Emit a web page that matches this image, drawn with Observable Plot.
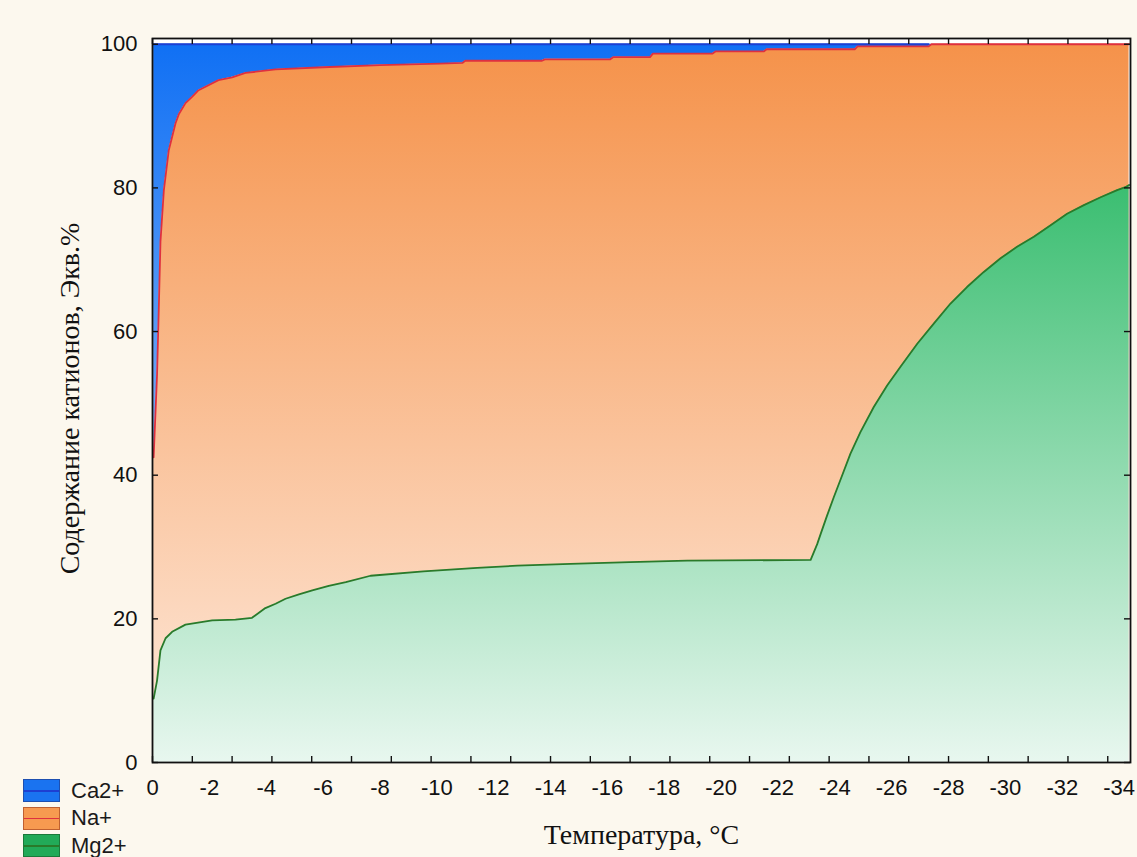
<!DOCTYPE html>
<html><head><meta charset="utf-8">
<script src="https://cdn.jsdelivr.net/npm/d3@7"></script>
<script src="https://cdn.jsdelivr.net/npm/@observablehq/plot@0.6"></script>
<style>
body{margin:0;background:#fcf8ee;}
#wrap{position:relative;width:1137px;height:857px;}
.legend{position:absolute;left:23px;top:777px;font:22px "Liberation Sans",Arial,sans-serif;color:#1a1a1a;}
.row{display:flex;align-items:center;height:27.5px;}
.sw{width:35px;height:21px;border:1px solid;position:relative;margin-right:11px;}
.sw i{position:absolute;left:0;right:0;top:10px;height:1.5px;}
</style></head><body><div id="wrap"></div>
<script>
// Ca2+ share (upper boundary of Na+ band = 100 - Ca)
const temperatureCa = [-0.04,-0.16,-0.22,-0.28,-0.4,-0.57,-0.81,-0.93,-1.16,-1.4,-1.62,-2.32,-2.8,-3.27,-4.33,-6,-8,-10.1,-10.9,-11.0,-13.7,-13.8,-16.1,-16.2,-17.5,-17.6,-19.7,-19.8,-21.5,-21.6,-24.7,-24.8,-27.3,-27.4,-34.35];
const caPct = [57.5,46,37,27.5,20.3,14.8,11,9.7,8.2,7.3,6.4,5.0,4.6,4.0,3.5,3.2,2.9,2.7,2.6,2.3,2.3,2.1,2.1,1.8,1.8,1.3,1.3,1.0,1.0,0.7,0.7,0.3,0.3,0,0];
// Mg2+ share (lower band)
const temperatureMg = [-0.04,-0.16,-0.28,-0.46,-0.69,-1.16,-2.1,-2.92,-3.5,-3.97,-4.33,-4.68,-5.15,-5.62,-6.2,-6.8,-7.67,-9.53,-11.42,-12.83,-14.7,-16.8,-18.8,-23.15,-23.38,-23.5,-23.73,-23.96,-24.26,-24.55,-24.9,-25.37,-25.84,-26.31,-26.9,-27.48,-28.07,-28.65,-29.24,-29.83,-30.41,-31.0,-31.59,-32.17,-32.76,-33.35,-33.93,-34.22,-34.35];
const mgPct = [8.9,11.4,15.6,17.3,18.2,19.2,19.8,19.9,20.15,21.5,22.1,22.8,23.4,23.95,24.6,25.1,26.0,26.6,27.1,27.4,27.65,27.9,28.1,28.2,30.4,31.8,34.4,36.9,40.0,43.0,46.0,49.5,52.5,55.1,58.3,61.1,63.9,66.2,68.3,70.2,71.8,73.2,74.8,76.4,77.6,78.7,79.7,80.1,80.4];
// Na+ = 100 - Ca - Mg (middle band)
const seriesNames = ["Ca2+","Na+","Mg2+"];
const xTickLabels = [0,-2,-4,-6,-8,-10,-12,-14,-16,-18,-20,-22,-24,-26,-28,-30,-32,-34];
const xTickMarks = [0,-1.4,-2.8,-4.2,-5.6,-7,-8.4,-9.8,-11.2,-12.6,-14,-15.4,-16.8,-18.2,-19.6,-21,-22.4,-23.8,-25.2,-26.6,-28,-29.4,-30.8,-32.2,-33.6];
const yTicks = [0,20,40,60,80,100];
const xTitle = "Температура, °C";
const yTitle = "Содержание катионов, Экв.%";

const colors = {
  "Ca2+": {top:"#1070f4", bottom:"#c2d9fb", line:"#1d3fd2", sw:"#1a73f0", border:"#1d4fb0"},
  "Na+":  {top:"#f5924a", bottom:"#feeadd", line:"#de3040", sw:"#f79a50", border:"#c06030"},
  "Mg2+": {top:"#10b052", bottom:"#e8f7ef", line:"#2a7a2a", sw:"#22aa58", border:"#1b7a3a"}
};

const upper = temperatureCa.map((t,i)=>({t, ca: caPct[i], top: 100 - caPct[i]}));
const lower = temperatureMg.map((t,i)=>({t, mg: mgPct[i]}));

const font = "Liberation Sans, Arial, sans-serif";
const serif = "Liberation Serif, Times New Roman, serif";
const W = 1137, H = 857, mL = 152, mR = 7, mT = 38, mB = 95;
const innerW = W - mL - mR, innerH = H - mT - mB, tick = 6;

const plot = Plot.plot({
  width: W, height: H,
  marginLeft: mL, marginRight: mR, marginTop: mT, marginBottom: mB,
  style: {background: "transparent", fontFamily: font, fontSize: "22px", color: "#111", overflow: "visible"},
  x: {domain: [0, -34.4], label: null, axis: null},
  y: {domain: [0, 100.8], label: null, axis: null},
  marks: [
    Plot.frame({fill: "white"}),
    Plot.areaY(upper, {x: "t", y1: 0, y2: "top", fill: "url(#gNa)"}),
    Plot.areaY(upper, {x: "t", y1: "top", y2: 100, fill: "url(#gCa)"}),
    Plot.areaY(lower, {x: "t", y1: 0, y2: "mg", fill: "url(#gMg)"}),
    Plot.lineY(upper.filter(d => d.ca > 0), {x: "t", y: 100, stroke: colors["Ca2+"].line, strokeWidth: 1.8}),
    Plot.lineY(upper, {x: "t", y: "top", stroke: colors["Na+"].line, strokeWidth: 1.8}),
    Plot.lineY(lower, {x: "t", y: "mg", stroke: colors["Mg2+"].line, strokeWidth: 1.8}),
    Plot.frame({stroke: "#111", strokeWidth: 1.8}),
    // tick labels
    Plot.axisY(yTicks, {anchor: "left", tickSize: 0, tickPadding: 15, fontSize: 22, label: null, tickFormat: d => String(d)}),
    Plot.axisX(xTickLabels, {anchor: "bottom", tickSize: 0, tickPadding: 17, fontSize: 22, label: null, tickFormat: d => String(d)}),
    // inward tick marks
    Plot.tickY(yTicks, {y: d => d, insetRight: innerW - tick, stroke: "#111", strokeWidth: 1.4}),
    Plot.tickY(yTicks, {y: d => d, insetLeft: innerW - tick, stroke: "#111", strokeWidth: 1.4}),
    Plot.tickX(xTickMarks, {x: d => d, insetTop: innerH - tick, stroke: "#111", strokeWidth: 1.4}),
    Plot.tickX(xTickMarks, {x: d => d, insetBottom: innerH - tick, stroke: "#111", strokeWidth: 1.4}),
    // titles
    Plot.text([xTitle], {text: d => d, frameAnchor: "bottom", dy: 73, lineAnchor: "middle", textAnchor: "middle", fontFamily: serif, fontSize: 28, fill: "#111"}),
    Plot.text([yTitle], {text: d => d, frameAnchor: "left", dx: -82, dy: -2, rotate: -90, lineAnchor: "middle", textAnchor: "middle", fontFamily: serif, fontSize: 28, fill: "#111"})
  ]
});

const svg = plot.tagName.toLowerCase() === "svg" ? plot : plot.querySelector("svg");
const ys = plot.scale("y");
const yAt = v => ys.apply ? ys.apply(v) : (ys.range[0] + (v - ys.domain[0]) / (ys.domain[1] - ys.domain[0]) * (ys.range[1] - ys.range[0]));
const defs = d3.select(svg).insert("defs", ":first-child");
[["gCa","Ca2+"],["gNa","Na+"],["gMg","Mg2+"]].forEach(([id, name]) => {
  const g = defs.append("linearGradient").attr("id", id).attr("gradientUnits", "userSpaceOnUse")
    .attr("x1", 0).attr("x2", 0).attr("y1", yAt(100)).attr("y2", yAt(0));
  g.append("stop").attr("offset", 0).attr("stop-color", colors[name].top);
  g.append("stop").attr("offset", 1).attr("stop-color", colors[name].bottom);
});

const wrap = document.getElementById("wrap");
wrap.appendChild(plot);
const legend = document.createElement("div");
legend.className = "legend";
seriesNames.forEach(name => {
  const row = document.createElement("div"); row.className = "row";
  const sw = document.createElement("span"); sw.className = "sw";
  sw.style.background = colors[name].sw; sw.style.borderColor = colors[name].border;
  const ln = document.createElement("i"); ln.style.background = colors[name].line; sw.appendChild(ln);
  const tx = document.createElement("span"); tx.textContent = name;
  row.appendChild(sw); row.appendChild(tx); legend.appendChild(row);
});
wrap.appendChild(legend);
</script></body></html>
